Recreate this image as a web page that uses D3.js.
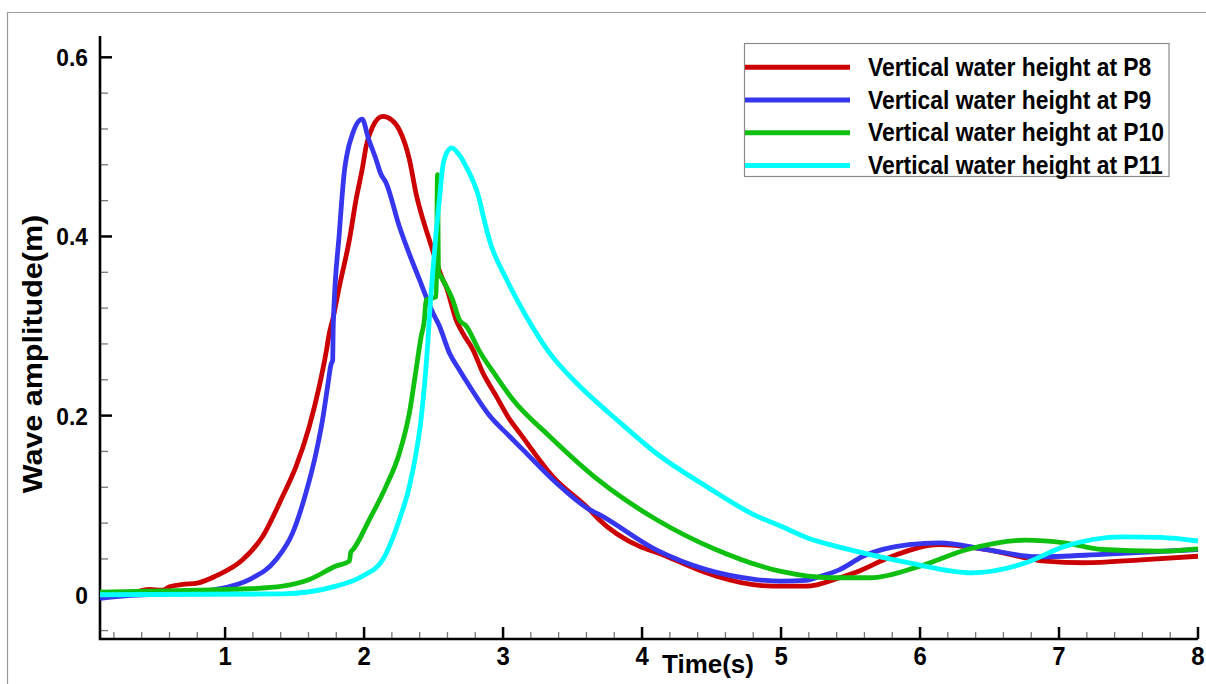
<!DOCTYPE html>
<html>
<head>
<meta charset="utf-8">
<script src="https://cdn.jsdelivr.net/npm/d3@7"></script>
<style>
  html, body { margin: 0; padding: 0; background: #fff; }
  svg { display: block; }
  text { font-family: "Liberation Sans", Arial, sans-serif; font-weight: bold; fill: #000; }
</style>
</head>
<body>
<svg id="chart" width="1206" height="684"></svg>
<script>
// ---------------- data ----------------
const seriesNames = ["Vertical water height at P8", "Vertical water height at P9", "Vertical water height at P10", "Vertical water height at P11"];
const seriesColors = ["#cc0000", "#3636ee", "#10c010", "#00ffff"];

const p8Time = [0.1, 0.3, 0.455, 0.55, 0.6, 0.694, 0.8, 0.934, 1.126, 1.27, 1.414, 1.51, 1.606, 1.678, 1.726, 1.75, 1.774, 1.822, 1.894, 1.942, 1.99, 2.014, 2.06, 2.134, 2.2, 2.254, 2.326, 2.374, 2.47, 2.566, 2.59, 2.662, 2.71, 2.782, 2.854, 2.95, 3.046, 3.118, 3.358, 3.622, 3.69, 3.982, 4.11, 4.462, 4.53, 4.942, 5.182, 5.422, 5.53, 5.8, 6.14, 6.48, 6.9, 7.18, 7.59, 8.0];
const p8Value = [0.0, 0.001, 0.006, 0.005, 0.009, 0.0115, 0.013, 0.021, 0.039, 0.065, 0.11, 0.143, 0.188, 0.233, 0.27, 0.292, 0.307, 0.344, 0.396, 0.441, 0.478, 0.5, 0.522, 0.534, 0.53, 0.519, 0.486, 0.448, 0.396, 0.352, 0.344, 0.307, 0.292, 0.274, 0.248, 0.222, 0.196, 0.181, 0.132, 0.095, 0.084, 0.054, 0.047, 0.0245, 0.021, 0.0096, 0.0096, 0.019, 0.0245, 0.043, 0.056, 0.0505, 0.0375, 0.0357, 0.039, 0.043];

const p9Time = [0.1, 0.3, 0.6, 0.934, 1.174, 1.366, 1.486, 1.582, 1.654, 1.702, 1.738, 1.762, 1.774, 1.778, 1.822, 1.86, 1.875, 1.918, 1.986, 2.03, 2.086, 2.12, 2.158, 2.254, 2.398, 2.494, 2.542, 2.614, 2.686, 2.758, 2.902, 3.046, 3.142, 3.382, 3.622, 3.69, 4.102, 4.462, 4.822, 5.0, 5.182, 5.25, 5.422, 5.59, 5.92, 6.14, 6.48, 6.84, 7.31, 8.0];
const p9Value = [-0.004, -0.001, 0.001, 0.006, 0.017, 0.039, 0.069, 0.114, 0.158, 0.196, 0.233, 0.257, 0.262, 0.3, 0.404, 0.475, 0.49, 0.515, 0.531, 0.51, 0.486, 0.47, 0.46, 0.411, 0.352, 0.315, 0.3, 0.27, 0.251, 0.233, 0.2, 0.177, 0.162, 0.125, 0.095, 0.0896, 0.05, 0.028, 0.017, 0.0152, 0.016, 0.019, 0.028, 0.043, 0.056, 0.058, 0.0505, 0.0424, 0.045, 0.0505];

const p10Time = [0.1, 0.455, 1.174, 1.414, 1.606, 1.798, 1.894, 1.905, 1.918, 2.038, 2.158, 2.254, 2.326, 2.374, 2.41, 2.434, 2.446, 2.52, 2.528, 2.536, 2.554, 2.638, 2.686, 2.734, 2.83, 2.95, 3.07, 3.334, 3.694, 4.102, 4.53, 5.0, 5.36, 5.64, 6.0, 6.34, 6.76, 7.04, 7.31, 7.73, 8.0];
const p10Value = [0.003, 0.004, 0.0067, 0.0096, 0.017, 0.032, 0.0375, 0.048, 0.05, 0.084, 0.121, 0.158, 0.203, 0.251, 0.288, 0.307, 0.329, 0.333, 0.469, 0.36, 0.355, 0.329, 0.307, 0.3, 0.272, 0.244, 0.218, 0.177, 0.127, 0.084, 0.0505, 0.026, 0.019, 0.019, 0.032, 0.0505, 0.061, 0.058, 0.0505, 0.0486, 0.0513];

const p11Time = [0.1, 1.414, 1.798, 1.99, 2.134, 2.254, 2.326, 2.374, 2.41, 2.434, 2.458, 2.47, 2.494, 2.518, 2.542, 2.566, 2.6, 2.631, 2.68, 2.734, 2.83, 2.854, 2.902, 3.022, 3.166, 3.334, 3.55, 3.814, 4.102, 4.462, 4.822, 5.0, 5.182, 5.45, 5.92, 6.37, 6.76, 7.04, 7.46, 7.73, 8.0];
const p11Value = [0.0, 0.001, 0.0096, 0.021, 0.039, 0.084, 0.121, 0.158, 0.196, 0.233, 0.28, 0.31, 0.36, 0.404, 0.441, 0.478, 0.495, 0.499, 0.492, 0.478, 0.441, 0.425, 0.396, 0.353, 0.311, 0.27, 0.233, 0.196, 0.158, 0.121, 0.088, 0.0765, 0.064, 0.052, 0.0357, 0.0245, 0.0357, 0.054, 0.0647, 0.064, 0.06];

const xMajorTicks = [1, 2, 3, 4, 5, 6, 7, 8];
const yMajorTicks = [0, 0.2, 0.4, 0.6];
const yTickLabels = ["0", "0.2", "0.4", "0.6"];
const xTitle = "Time(s)";
const yTitle = "Wave amplitude(m)";

// ---------------- chart ----------------
const svg = d3.select("#chart");

// outer frame (left + top gray lines)
svg.append("path").attr("d", "M7.5,684 V12.5 H1206")
  .attr("fill", "none").attr("stroke", "#9a9a9a").attr("stroke-width", 1.2);

const x = d3.scaleLinear().domain([0.1, 8]).range([100, 1198]);
const y = d3.scaleLinear().domain([-0.0494, 0.6238]).range([639, 36]);

const xMinor = d3.range(2, 80, 2).map(d => d / 10).filter(d => !xMajorTicks.includes(d));
const yMinor = d3.range(-1, 16).map(d => +(d * 0.04).toFixed(2)).filter(d => !yMajorTicks.some(m => Math.abs(m - d) < 1e-9));

// minor ticks
const gx = svg.append("g");
gx.selectAll("line.mx").data(xMinor).join("line")
  .attr("x1", d => x(d)).attr("x2", d => x(d))
  .attr("y1", 639).attr("y2", 632)
  .attr("stroke", "#777").attr("stroke-width", 1.3);
gx.selectAll("line.Mx").data(xMajorTicks).join("line")
  .attr("x1", d => x(d)).attr("x2", d => x(d))
  .attr("y1", 639).attr("y2", 627)
  .attr("stroke", "#000").attr("stroke-width", 2.5);

const gy = svg.append("g");
gy.selectAll("line.my").data(yMinor).join("line")
  .attr("y1", d => y(d)).attr("y2", d => y(d))
  .attr("x1", 100).attr("x2", 108)
  .attr("stroke", "#777").attr("stroke-width", 1.3);
gy.selectAll("line.My").data(yMajorTicks).join("line")
  .attr("y1", d => y(d)).attr("y2", d => y(d))
  .attr("x1", 100).attr("x2", 112)
  .attr("stroke", "#000").attr("stroke-width", 2.5);

// axis lines
svg.append("path").attr("d", `M100,${y.range()[1]} V639 H1198`)
  .attr("fill", "none").attr("stroke", "#000").attr("stroke-width", 2.6);

// tick labels
svg.selectAll("text.xl").data(xMajorTicks).join("text")
  .attr("transform", d => `translate(${x(d)},665) scale(0.92,1)`)
  .attr("text-anchor", "middle").attr("font-size", 26)
  .text(d => d);
svg.selectAll("text.yl").data(yMajorTicks).join("text")
  .attr("transform", d => `translate(88,${y(d) + 9}) scale(0.95,1)`)
  .attr("text-anchor", "end").attr("font-size", 24)
  .text((d, i) => yTickLabels[i]);

// titles
svg.append("text").attr("x", 708).attr("y", 673)
  .attr("text-anchor", "middle").attr("font-size", 26).text(xTitle);
svg.append("text")
  .attr("transform", "translate(42,354) rotate(-90) scale(1.13,1)")
  .attr("text-anchor", "middle").attr("font-size", 27).text(yTitle);

// series lines
const series = [
  [p8Time, p8Value], [p9Time, p9Value], [p10Time, p10Value], [p11Time, p11Value]
];
const line = d3.line().x(d => x(d[0])).y(d => y(d[1])).curve(d3.curveMonotoneX);
series.forEach((s, i) => {
  const pts = s[0].map((t, j) => [t, s[1][j]]);
  svg.append("path").datum(pts)
    .attr("d", line)
    .attr("fill", "none")
    .attr("stroke", seriesColors[i])
    .attr("stroke-width", 4.8)
    .attr("stroke-linejoin", "round");
});

// legend
const lg = svg.append("g");
lg.append("rect").attr("x", 744.5).attr("y", 43.5).attr("width", 424.5).attr("height", 133)
  .attr("fill", "#fff").attr("stroke", "#8a8a8a").attr("stroke-width", 1.2);
seriesNames.forEach((name, i) => {
  const ly = 67.3 + i * 32.7;
  lg.append("line").attr("x1", 745).attr("x2", 850).attr("y1", ly).attr("y2", ly)
    .attr("stroke", seriesColors[i]).attr("stroke-width", 5);
  lg.append("text")
    .attr("transform", `translate(868,${ly + 8.7}) scale(0.88,1)`)
    .attr("font-size", 26).text(name);
});
</script>
</body>
</html>
